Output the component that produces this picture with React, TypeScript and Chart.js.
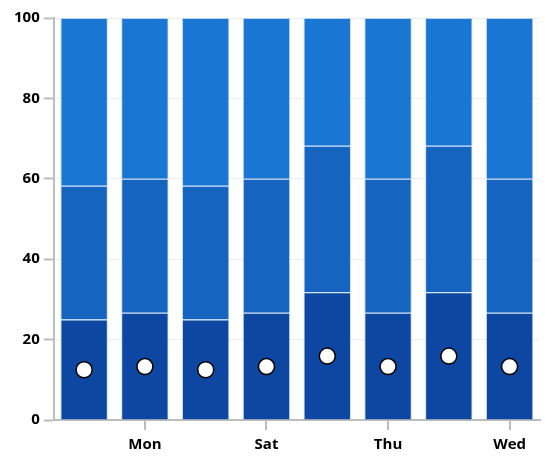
import { useEffect, useRef } from 'react'
import { Chart, registerables } from 'chart.js'

Chart.register(...registerables)

// categories (only every other one is labelled in the chart)
const days = ['Tue', 'Mon', 'Sun', 'Sat', 'Fri', 'Thu', 'Thu', 'Wed']
// percent shares of each stacked segment
const lowShare = [25, 26.7, 25, 26.7, 31.8, 26.7, 31.8, 26.7]
const midShare = [33.3, 33.3, 33.3, 33.3, 36.4, 33.3, 36.4, 33.3]
const topShare = [41.7, 40, 41.7, 40, 31.8, 40, 31.8, 40]
// marker values (circles)
const markers = [12.5, 13.3, 12.5, 13.3, 15.9, 13.3, 15.9, 13.3]

const fontFamily = '"Segoe UI", "Open Sans", "Noto Sans", sans-serif'

export default function App() {
  const chartRef = useRef<HTMLCanvasElement>(null)
  const chartInstanceRef = useRef<Chart | null>(null)

  useEffect(() => {
    document.body.style.margin = '0'
    if (!chartRef.current) return
    const ctx = chartRef.current.getContext('2d')
    if (!ctx) return

    if (chartInstanceRef.current) {
      chartInstanceRef.current.destroy()
    }

    const barBorder = 'rgba(110, 170, 235, 0.4)'

    chartInstanceRef.current = new Chart(ctx, {
      type: 'bar',
      data: {
        labels: days,
        datasets: [
          {
            type: 'line',
            label: 'Markers',
            data: markers,
            showLine: false,
            pointRadius: 8,
            pointHoverRadius: 8,
            pointBackgroundColor: '#ffffff',
            pointBorderColor: '#000000',
            pointBorderWidth: 1.5,
            stack: 'markers',
            order: 0,
          } as any,
          {
            label: 'Low',
            data: lowShare,
            backgroundColor: '#0d47a1',
            borderColor: barBorder,
            borderWidth: 1,
            stack: 'bars',
            order: 1,
          },
          {
            label: 'Mid',
            data: midShare,
            backgroundColor: '#1565c0',
            borderColor: barBorder,
            borderWidth: 1,
            stack: 'bars',
            order: 1,
          },
          {
            label: 'Top',
            data: topShare,
            backgroundColor: '#1976d2',
            borderColor: barBorder,
            borderWidth: 1,
            stack: 'bars',
            order: 1,
          },
        ],
      },
      options: {
        animation: false,
        responsive: true,
        maintainAspectRatio: false,
        datasets: {
          bar: { barPercentage: 0.78, categoryPercentage: 1 },
        },
        layout: { padding: { top: 18, right: 13, bottom: 0, left: 10 } },
        plugins: {
          legend: { display: false },
          tooltip: { enabled: false },
        },
        scales: {
          x: {
            stacked: true,
            grid: {
              offset: false,
              drawOnChartArea: false,
              drawTicks: true,
              tickLength: 10,
              color: '#bdbdbd',
              tickColor: (c: any) => (c.index % 2 === 1 ? '#bdbdbd' : 'rgba(0,0,0,0)'),
              lineWidth: 2,
            },
            border: { color: '#bdbdbd', width: 2 },
            ticks: {
              autoSkip: false,
              maxRotation: 0,
              color: '#000',
              font: { family: fontFamily, size: 15, weight: 'bold' },
              padding: 6,
              callback: (_v, i) => (i % 2 === 1 ? days[i] : ''),
            },
          },
          y: {
            stacked: true,
            min: 0,
            max: 100,
            grid: {
              color: '#eeeeee',
              tickColor: '#bdbdbd',
              tickLength: 10,
              tickWidth: 2,
            },
            border: { color: '#bdbdbd', width: 2 },
            ticks: {
              stepSize: 20,
              color: '#000',
              font: { family: fontFamily, size: 15, weight: 'bold' },
              padding: 4,
            },
          },
        },
      },
    })

    return () => {
      chartInstanceRef.current?.destroy()
      chartInstanceRef.current = null
    }
  }, [])

  return (
    <div style={{ width: 553, height: 460, position: 'relative' }}>
      <canvas ref={chartRef}></canvas>
    </div>
  )
}
